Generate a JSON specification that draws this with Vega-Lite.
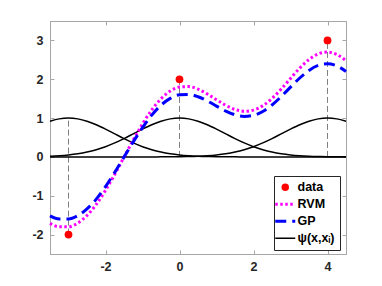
{
  "$schema": "https://vega.github.io/schema/vega-lite/v6.json",
  "autosize": {"type": "none"},
  "padding": {"left": 50, "top": 21, "right": 36, "bottom": 32},
  "width": 296,
  "height": 233,
  "background": "white",
  "config": {
    "view": {"stroke": "#a6a6a6", "strokeWidth": 1},
    "axis": {
      "domainColor": "#a6a6a6",
      "tickColor": "#a6a6a6",
      "tickSize": -4,
      "labelFont": "Liberation Sans",
      "labelFontWeight": "bold",
      "labelFontSize": 12.5,
      "labelColor": "#262626",
      "labelExpr": "'' + datum.value",
      "grid": false,
      "title": null
    },
    "legend": {
      "labelFont": "Liberation Sans",
      "labelFontWeight": "bold",
      "labelFontSize": 12.5,
      "labelColor": "#000000"
    }
  },
  "datasets": {
    "curves": [
      {"x": -3.5, "RVM": -1.710, "GP": -1.520, "p1": 0.920, "p2": 0.0169, "p3": 0},
      {"x": -3.25, "RVM": -1.799, "GP": -1.599, "p1": 0.9794, "p2": 0.0296, "p3": 0},
      {"x": -3, "RVM": -1.800, "GP": -1.600, "p1": 1, "p2": 0.0498, "p3": 0},
      {"x": -2.75, "RVM": -1.703, "GP": -1.514, "p1": 0.9794, "p2": 0.0804, "p3": 0},
      {"x": -2.5, "RVM": -1.508, "GP": -1.340, "p1": 0.920, "p2": 0.1245, "p3": 0},
      {"x": -2.25, "RVM": -1.222, "GP": -1.086, "p1": 0.829, "p2": 0.185, "p3": 0},
      {"x": -2, "RVM": -0.861, "GP": -0.765, "p1": 0.7165, "p2": 0.2636, "p3": 0},
      {"x": -1.75, "RVM": -0.447, "GP": -0.397, "p1": 0.594, "p2": 0.3603, "p3": 0},
      {"x": -1.5, "RVM": -0.006, "GP": -0.005, "p1": 0.4724, "p2": 0.4724, "p3": 0},
      {"x": -1.25, "RVM": 0.436, "GP": 0.388, "p1": 0.3603, "p2": 0.594, "p3": 0.0001},
      {"x": -1, "RVM": 0.849, "GP": 0.755, "p1": 0.2636, "p2": 0.7165, "p3": 0.0002},
      {"x": -0.75, "RVM": 1.211, "GP": 1.076, "p1": 0.185, "p2": 0.829, "p3": 0.0005},
      {"x": -0.5, "RVM": 1.498, "GP": 1.332, "p1": 0.1245, "p2": 0.920, "p3": 0.0012},
      {"x": -0.25, "RVM": 1.697, "GP": 1.508, "p1": 0.0804, "p2": 0.9794, "p3": 0.0024},
      {"x": 0, "RVM": 1.800, "GP": 1.600, "p1": 0.0498, "p2": 1, "p3": 0.0048},
      {"x": 0.25, "RVM": 1.811, "GP": 1.610, "p1": 0.0296, "p2": 0.9794, "p3": 0.0092},
      {"x": 0.5, "RVM": 1.744, "GP": 1.550, "p1": 0.0169, "p2": 0.920, "p3": 0.0169},
      {"x": 0.75, "RVM": 1.622, "GP": 1.442, "p1": 0.0092, "p2": 0.829, "p3": 0.0296},
      {"x": 1, "RVM": 1.473, "GP": 1.309, "p1": 0.0048, "p2": 0.7165, "p3": 0.0498},
      {"x": 1.25, "RVM": 1.329, "GP": 1.181, "p1": 0.0024, "p2": 0.594, "p3": 0.0804},
      {"x": 1.5, "RVM": 1.221, "GP": 1.085, "p1": 0.0012, "p2": 0.4724, "p3": 0.1245},
      {"x": 1.75, "RVM": 1.175, "GP": 1.044, "p1": 0.0005, "p2": 0.3603, "p3": 0.185},
      {"x": 2, "RVM": 1.205, "GP": 1.071, "p1": 0.0002, "p2": 0.2636, "p3": 0.2636},
      {"x": 2.25, "RVM": 1.317, "GP": 1.171, "p1": 0, "p2": 0.185, "p3": 0.3603},
      {"x": 2.5, "RVM": 1.505, "GP": 1.338, "p1": 0, "p2": 0.1245, "p3": 0.4724},
      {"x": 2.75, "RVM": 1.749, "GP": 1.555, "p1": 0, "p2": 0.0804, "p3": 0.594},
      {"x": 3, "RVM": 2.021, "GP": 1.796, "p1": 0, "p2": 0.0498, "p3": 0.7165},
      {"x": 3.25, "RVM": 2.286, "GP": 2.032, "p1": 0, "p2": 0.0296, "p3": 0.829},
      {"x": 3.5, "RVM": 2.507, "GP": 2.228, "p1": 0, "p2": 0.0169, "p3": 0.920},
      {"x": 3.75, "RVM": 2.652, "GP": 2.357, "p1": 0, "p2": 0.0092, "p3": 0.9794},
      {"x": 4, "RVM": 2.699, "GP": 2.399, "p1": 0, "p2": 0.0048, "p3": 1},
      {"x": 4.25, "RVM": 2.639, "GP": 2.346, "p1": 0, "p2": 0.0024, "p3": 0.9794},
      {"x": 4.5, "RVM": 2.477, "GP": 2.202, "p1": 0, "p2": 0.0012, "p3": 0.920}
    ],
    "points": [
      {"x": -3, "t": -2, "lo": -2, "hi": 1},
      {"x": 0, "t": 2, "lo": 0, "hi": 2},
      {"x": 4, "t": 3, "lo": 0, "hi": 3}
    ]
  },
  "layer": [
    {
      "data": {"name": "points"},
      "mark": {"type": "rule", "color": "#808080", "strokeWidth": 1, "strokeDash": [6, 3]},
      "encoding": {
        "x": {"field": "x", "type": "quantitative", "scale": {"domain": [-3.5, 4.5], "nice": false, "zero": false}, "axis": {"values": [-2, 0, 2, 4], "orient": "bottom", "labelPadding": 10}},
        "y": {"field": "lo", "type": "quantitative", "scale": {"domain": [-2.5, 3.5], "nice": false, "zero": false}, "axis": {"values": [-2, -1, 0, 1, 2, 3], "orient": "left", "labelPadding": 11}},
        "y2": {"field": "hi"}
      }
    },
    {
      "data": {"name": "points"},
      "mark": {"type": "point", "opacity": 0},
      "encoding": {
        "x": {"field": "x", "type": "quantitative", "axis": {"values": [-2, 0, 2, 4], "orient": "top", "labels": false}},
        "y": {"field": "t", "type": "quantitative", "axis": {"values": [-2, -1, 0, 1, 2, 3], "orient": "right", "labels": false}}
      }
    },
    {
      "mark": {"type": "rule", "color": "#000000", "strokeWidth": 1.5},
      "encoding": {"y": {"datum": 0, "type": "quantitative", "axis": null}}
    },
    {
      "data": {"name": "curves"},
      "mark": {"type": "line", "strokeWidth": 1.5, "interpolate": "monotone"},
      "encoding": {
        "x": {"field": "x", "type": "quantitative", "axis": null},
        "y": {"field": "p1", "type": "quantitative", "axis": null},
        "color": {
          "datum": "ψ(x,xᵢ)",
          "scale": {"domain": ["data", "RVM", "GP", "ψ(x,xᵢ)"], "range": ["#ff0000", "#ff00ff", "#0000ff", "#000000"]},
          "legend": {
            "title": null,
            "orient": "none",
            "legendX": 224,
            "legendY": 155,
            "padding": 5,
            "rowPadding": 4,
            "strokeColor": "#262626",
            "fillColor": "#ffffff",
            "symbolSize": 400,
            "labelOffset": 6,
            "encode": {
              "symbols": {
                "update": {
                  "shape": {"signal": "datum.value === 'data' ? 'circle' : 'stroke'"},
                  "size": {"signal": "datum.value === 'data' ? 56 : 400"},
                  "fill": {"signal": "datum.value === 'data' ? '#ff0000' : 'transparent'"},
                  "stroke": {"signal": "datum.value === 'data' ? 'transparent' : datum.value === 'RVM' ? '#ff00ff' : datum.value === 'GP' ? '#0000ff' : '#000000'"},
                  "strokeWidth": {"signal": "datum.value === 'data' ? 0 : datum.value === 'RVM' || datum.value === 'GP' ? 3 : 1.5"},
                  "strokeDash": {"signal": "datum.value === 'RVM' ? [2.5, 2.5] : datum.value === 'GP' ? [11, 6] : [1, 0]"},
                  "opacity": {"value": 1}
                }
              }
            }
          }
        }
      }
    },
    {
      "data": {"name": "curves"},
      "mark": {"type": "line", "strokeWidth": 1.5, "interpolate": "monotone"},
      "encoding": {
        "x": {"field": "x", "type": "quantitative", "axis": null},
        "y": {"field": "p2", "type": "quantitative", "axis": null},
        "color": {"datum": "ψ(x,xᵢ)"}
      }
    },
    {
      "data": {"name": "curves"},
      "mark": {"type": "line", "strokeWidth": 1.5, "interpolate": "monotone"},
      "encoding": {
        "x": {"field": "x", "type": "quantitative", "axis": null},
        "y": {"field": "p3", "type": "quantitative", "axis": null},
        "color": {"datum": "ψ(x,xᵢ)"}
      }
    },
    {
      "data": {"name": "curves"},
      "mark": {"type": "line", "strokeWidth": 3, "strokeDash": [2.5, 2.5], "interpolate": "monotone"},
      "encoding": {
        "x": {"field": "x", "type": "quantitative", "axis": null},
        "y": {"field": "RVM", "type": "quantitative", "axis": null},
        "color": {"datum": "RVM"}
      }
    },
    {
      "data": {"name": "curves"},
      "mark": {"type": "line", "strokeWidth": 3, "strokeDash": [11, 6], "interpolate": "monotone"},
      "encoding": {
        "x": {"field": "x", "type": "quantitative", "axis": null},
        "y": {"field": "GP", "type": "quantitative", "axis": null},
        "color": {"datum": "GP"}
      }
    },
    {
      "data": {"name": "points"},
      "mark": {"type": "point", "filled": true, "shape": "circle", "size": 60, "opacity": 1},
      "encoding": {
        "x": {"field": "x", "type": "quantitative", "axis": null},
        "y": {"field": "t", "type": "quantitative", "axis": null},
        "color": {"datum": "data"}
      }
    }
  ],
  "resolve": {"axis": {"x": "independent", "y": "independent"}}
}
